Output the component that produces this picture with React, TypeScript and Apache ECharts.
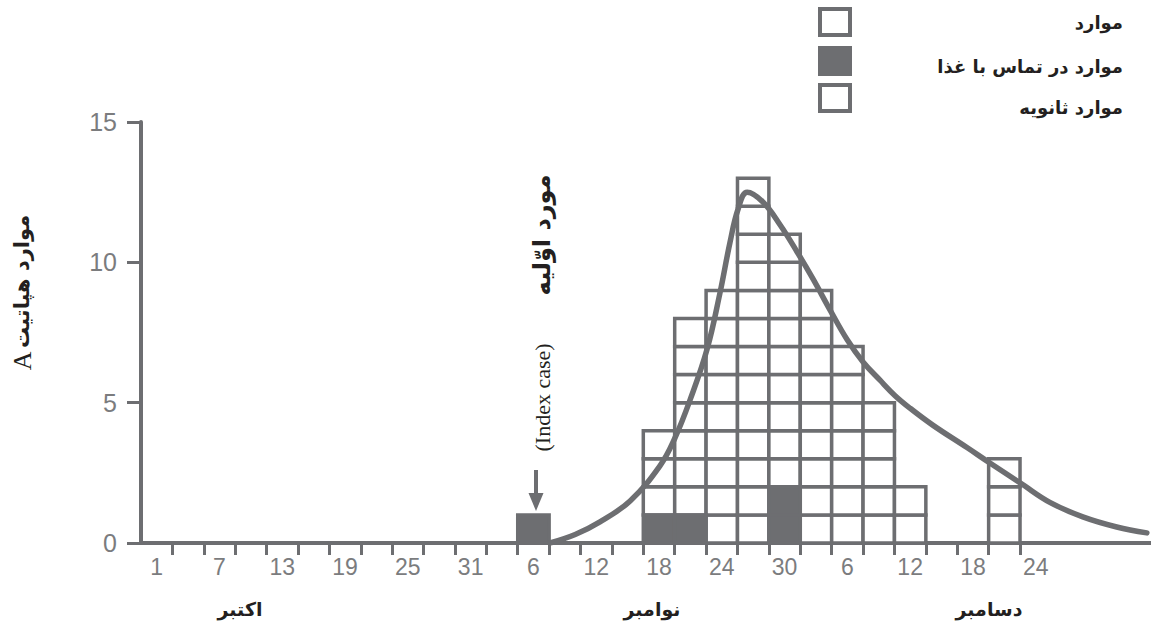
import React, { useEffect, useRef } from "react";
import * as echarts from "echarts";

// ---- data ----
// 3-day categories starting 1 October (labels every 6 days)
const X_LABELS = [
  "1", "", "7", "", "13", "", "19", "", "25", "", "31", "",
  "6", "", "12", "", "18", "", "24", "", "30", "",
  "6", "", "12", "", "18", "", "24", "", "", "", "",
];
const LAST_TICK = 28;

// columns of cases (category index), total cases, food-contact cases (bottom cells)
const CASE_COLUMNS = [12, 16, 17, 18, 19, 20, 21, 22, 23, 24, 27];
const CASE_TOTALS = [1, 4, 8, 9, 13, 11, 9, 7, 5, 2, 3];
const FOOD_CONTACT = [1, 1, 1, 0, 0, 2, 0, 0, 0, 0, 0];

// fitted epidemic curve (x in category units from the axis origin)
const CURVE_X = [
  13.03, 13.83, 14.62, 15.58, 16.53, 17.01, 17.49, 18.03, 18.44, 18.76,
  19.02, 19.31, 19.81, 20.36, 20.9, 21.41, 21.95, 22.49, 23.0, 23.54, 24.02,
  24.5, 25.22, 26.31, 27.04, 28.06, 28.95, 30.0, 31.08, 32.04,
];
const CURVE_Y = [
  0, 0.3, 0.75, 1.5, 2.75, 3.75, 5.1, 6.9, 8.9, 10.7,
  11.9, 12.5, 12.15, 11.33, 10.37, 9.4, 8.3, 7.25, 6.45, 5.8, 5.25,
  4.8, 4.2, 3.4, 2.85, 2.1, 1.45, 0.93, 0.57, 0.36,
];

const MONTHS = ["اکتبر", "نوامبر", "دسامبر"];
const LEGEND_LABELS = ["موارد", "موارد در تماس با غذا", "موارد ثانویه"];
const Y_NAME_FA = "موارد هپاتیت";
const INDEX_FA = "مورد اوّلیه";
const INDEX_EN = "(Index case)";

const GRAY = "#6d6e71";
const LABEL_GRAY = "#7b7c7e";
const BLACK = "#231f20";
const FA_FONT = "DejaVu Sans";

export default function App() {
  const ref = useRef<HTMLDivElement>(null);

  useEffect(() => {
    if (!ref.current) return;
    const chart = echarts.init(ref.current, null, { renderer: "svg" });

    const whiteCells: number[][] = [];
    const filledCells: number[][] = [];
    CASE_COLUMNS.forEach((col, i) => {
      for (let lvl = 0; lvl < CASE_TOTALS[i]; lvl++) {
        if (lvl < FOOD_CONTACT[i]) filledCells.push([col, lvl]);
        else whiteCells.push([col, lvl]);
      }
    });

    const makeRender = (fill: string) => (params: any, api: any) => {
      const col = api.value(0);
      const lvl = api.value(1);
      const p0 = api.coord([col, lvl]);
      const p1 = api.coord([col + 1, lvl + 1]);
      return {
        type: "rect",
        shape: { x: p0[0], y: p1[1], width: p1[0] - p0[0], height: p0[1] - p1[1] },
        style: { fill, stroke: GRAY, lineWidth: 3.5 },
      };
    };

    const legendGraphics: any[] = [];
    const legendTops = [7, 46, 83];
    const legendTextY = [22, 66, 107];
    LEGEND_LABELS.forEach((label, i) => {
      legendGraphics.push({
        type: "rect",
        shape: { x: 820, y: legendTops[i] + 2, width: 30, height: 26 },
        style: { fill: i === 1 ? GRAY : "#ffffff", stroke: GRAY, lineWidth: 4 },
      });
      legendGraphics.push({
        type: "text",
        x: 1123,
        y: legendTextY[i],
        style: {
          text: label,
          fill: BLACK,
          font: `bold 18px "${FA_FONT}"`,
          align: "right",
          verticalAlign: "middle",
        },
      });
    });

    const monthX = [240, 652, 989];
    const monthGraphics = MONTHS.map((m, i) => ({
      type: "text",
      x: monthX[i],
      y: 609,
      style: {
        text: m,
        fill: BLACK,
        font: `bold 19px "${FA_FONT}"`,
        align: "center",
        verticalAlign: "middle",
      },
    }));

    const option: any = {
      animation: false,
      backgroundColor: "#ffffff",
      grid: {
        left: 141,
        top: 122,
        width: 1036,
        height: 421,
        containLabel: false,
        outerBoundsMode: "none",
      },
      xAxis: [
        {
          type: "category",
          data: X_LABELS,
          boundaryGap: true,
          axisLine: { show: true, lineStyle: { color: GRAY, width: 4 } },
          axisTick: {
            show: true,
            interval: (i: number) => i >= 1 && i <= LAST_TICK,
            length: 12,
            lineStyle: { color: GRAY, width: 3 },
          },
          axisLabel: {
            interval: 0,
            color: LABEL_GRAY,
            fontSize: 23,
            fontFamily: "Liberation Sans",
            margin: 12,
          },
          splitLine: { show: false },
        },
        { type: "value", min: 0, max: 33, show: false },
      ],
      yAxis: {
        type: "value",
        min: 0,
        max: 15,
        interval: 5,
        name: `{a|A} {b|${Y_NAME_FA}}`,
        nameLocation: "middle",
        nameRotate: 90,
        nameGap: 106,
        nameTextStyle: {
          padding: [0, 0, 0, 80],
          rich: {
            a: { fontFamily: "Liberation Serif", fontSize: 26, color: BLACK },
            b: { fontFamily: FA_FONT, fontWeight: "bold", fontSize: 21, color: BLACK },
          },
        },
        axisLine: { show: true, lineStyle: { color: GRAY, width: 4 } },
        axisTick: { show: true, length: 14, lineStyle: { color: GRAY, width: 3 } },
        axisLabel: {
          color: LABEL_GRAY,
          fontSize: 25,
          fontFamily: "Liberation Sans",
          margin: 24,
        },
        splitLine: { show: false },
      },
      series: [
        {
          name: LEGEND_LABELS[0],
          type: "custom",
          xAxisIndex: 1,
          yAxisIndex: 0,
          clip: false,
          encode: { x: 0, y: 1 },
          data: whiteCells,
          renderItem: makeRender("#ffffff"),
          z: 2,
        },
        {
          name: LEGEND_LABELS[1],
          type: "custom",
          xAxisIndex: 1,
          yAxisIndex: 0,
          clip: false,
          encode: { x: 0, y: 1 },
          data: filledCells,
          renderItem: makeRender(GRAY),
          z: 3,
        },
        {
          name: "curve",
          type: "line",
          xAxisIndex: 1,
          yAxisIndex: 0,
          data: CURVE_X.map((x, i) => [x, CURVE_Y[i]]),
          smooth: 0.4,
          symbol: "none",
          lineStyle: { color: GRAY, width: 5.5, cap: "round", join: "round" },
          z: 5,
        },
      ],
      graphic: [
        ...legendGraphics,
        ...monthGraphics,
        {
          type: "text",
          x: 542,
          y: 313,
          rotation: Math.PI / 2,
          style: {
            text: `{e|${INDEX_EN}}{p|${INDEX_FA}}`,
            align: "center",
            verticalAlign: "middle",
            rich: {
              e: { fontFamily: "Liberation Serif", fontSize: 22, fill: BLACK, padding: [0, 48, 0, 0] },
              p: { fontFamily: FA_FONT, fontWeight: "bold", fontSize: 24, fill: BLACK },
            },
          },
        },
        {
          type: "line",
          shape: { x1: 536, y1: 470, x2: 536, y2: 495 },
          style: { stroke: GRAY, lineWidth: 4 },
        },
        {
          type: "polygon",
          shape: { points: [[528.5, 493], [543.5, 493], [536, 511]] },
          style: { fill: GRAY },
        },
      ],
    };

    chart.setOption(option);
    return () => chart.dispose();
  }, []);

  return (
    <div
      ref={ref}
      style={{ position: "fixed", left: 0, top: 0, width: 1151, height: 627, background: "#fff" }}
    />
  );
}
